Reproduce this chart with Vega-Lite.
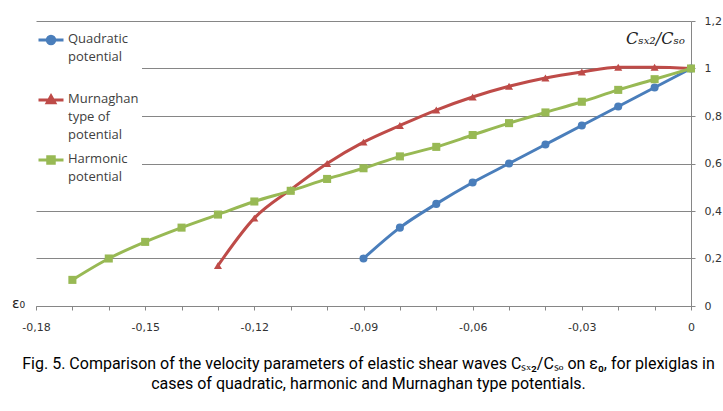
{
  "$schema": "https://vega.github.io/schema/vega-lite/v6.json",
  "width": 655,
  "height": 285,
  "autosize": "none",
  "padding": {"left": 36, "top": 21, "right": 32, "bottom": 105},
  "background": "white",
  "config": {
    "view": {"stroke": null},
    "font": "DejaVu Sans"
  },
  "title": {
    "text": [
      "Fig. 5. Comparison of the velocity parameters of elastic shear waves Cₛₓ₂/Cₛₒ  on ε₀, for plexiglas in",
      "cases of quadratic, harmonic and Murnaghan type potentials."
    ],
    "orient": "bottom",
    "anchor": "middle",
    "frame": "group",
    "offset": 24,
    "dx": 5,
    "font": "Roboto",
    "fontSize": 16,
    "fontWeight": "normal",
    "color": "#000000",
    "lineHeight": 20,
    "baseline": "top"
  },
  "datasets": {
    "curves": [
      {"eps": -0.09, "c": 0.20, "series": "Quadratic potential"},
      {"eps": -0.08, "c": 0.33, "series": "Quadratic potential"},
      {"eps": -0.07, "c": 0.43, "series": "Quadratic potential"},
      {"eps": -0.06, "c": 0.52, "series": "Quadratic potential"},
      {"eps": -0.05, "c": 0.60, "series": "Quadratic potential"},
      {"eps": -0.04, "c": 0.68, "series": "Quadratic potential"},
      {"eps": -0.03, "c": 0.76, "series": "Quadratic potential"},
      {"eps": -0.02, "c": 0.84, "series": "Quadratic potential"},
      {"eps": -0.01, "c": 0.92, "series": "Quadratic potential"},
      {"eps": 0, "c": 1.0, "series": "Quadratic potential"},
      {"eps": -0.13, "c": 0.17, "series": "Murnaghan type of potential"},
      {"eps": -0.12, "c": 0.37, "series": "Murnaghan type of potential"},
      {"eps": -0.11, "c": 0.49, "series": "Murnaghan type of potential"},
      {"eps": -0.10, "c": 0.60, "series": "Murnaghan type of potential"},
      {"eps": -0.09, "c": 0.69, "series": "Murnaghan type of potential"},
      {"eps": -0.08, "c": 0.76, "series": "Murnaghan type of potential"},
      {"eps": -0.07, "c": 0.825, "series": "Murnaghan type of potential"},
      {"eps": -0.06, "c": 0.88, "series": "Murnaghan type of potential"},
      {"eps": -0.05, "c": 0.925, "series": "Murnaghan type of potential"},
      {"eps": -0.04, "c": 0.96, "series": "Murnaghan type of potential"},
      {"eps": -0.03, "c": 0.985, "series": "Murnaghan type of potential"},
      {"eps": -0.02, "c": 1.005, "series": "Murnaghan type of potential"},
      {"eps": -0.01, "c": 1.005, "series": "Murnaghan type of potential"},
      {"eps": 0, "c": 1.0, "series": "Murnaghan type of potential"},
      {"eps": -0.17, "c": 0.11, "series": "Harmonic potential"},
      {"eps": -0.16, "c": 0.20, "series": "Harmonic potential"},
      {"eps": -0.15, "c": 0.27, "series": "Harmonic potential"},
      {"eps": -0.14, "c": 0.33, "series": "Harmonic potential"},
      {"eps": -0.13, "c": 0.385, "series": "Harmonic potential"},
      {"eps": -0.12, "c": 0.44, "series": "Harmonic potential"},
      {"eps": -0.11, "c": 0.485, "series": "Harmonic potential"},
      {"eps": -0.10, "c": 0.535, "series": "Harmonic potential"},
      {"eps": -0.09, "c": 0.58, "series": "Harmonic potential"},
      {"eps": -0.08, "c": 0.63, "series": "Harmonic potential"},
      {"eps": -0.07, "c": 0.67, "series": "Harmonic potential"},
      {"eps": -0.06, "c": 0.72, "series": "Harmonic potential"},
      {"eps": -0.05, "c": 0.77, "series": "Harmonic potential"},
      {"eps": -0.04, "c": 0.815, "series": "Harmonic potential"},
      {"eps": -0.03, "c": 0.86, "series": "Harmonic potential"},
      {"eps": -0.02, "c": 0.91, "series": "Harmonic potential"},
      {"eps": -0.01, "c": 0.955, "series": "Harmonic potential"},
      {"eps": 0, "c": 1.0, "series": "Harmonic potential"}
    ]
  },
  "data": {"name": "curves"},
  "encoding": {
    "x": {
      "field": "eps",
      "type": "quantitative",
      "scale": {"domain": [-0.18, 0], "nice": false, "zero": false},
      "axis": {
        "values": [-0.18, -0.17, -0.16, -0.15, -0.14, -0.13, -0.12, -0.11, -0.1, -0.09, -0.08, -0.07, -0.06, -0.05, -0.04, -0.03, -0.02, -0.01, 0],
        "labelExpr": "round(datum.value * 100) % 3 != 0 ? '' : (datum.value == 0 ? '0' : '-' + replace(format(abs(datum.value), '.2f'), '.', ','))",
        "labelOverlap": false,
        "labelFlush": false,
        "grid": false,
        "domainColor": "#868686",
        "tickColor": "#868686",
        "tickSize": 4,
        "labelPadding": 11,
        "labelFont": "DejaVu Sans",
        "labelFontSize": 11,
        "labelColor": "#333333",
        "title": "ε₀",
        "titleX": -18,
        "titleY": -3,
        "titleAngle": 0,
        "titleAlign": "center",
        "titleBaseline": "middle",
        "titleFont": "DejaVu Sans",
        "titleFontSize": 14,
        "titleFontWeight": "normal",
        "titleColor": "#222222"
      }
    },
    "y": {
      "field": "c",
      "type": "quantitative",
      "scale": {"domain": [0, 1.2], "nice": false},
      "axis": {
        "orient": "right",
        "values": [0, 0.2, 0.4, 0.6, 0.8, 1, 1.2],
        "labelExpr": "datum.value == 0 ? '0' : datum.value == 1 ? '1' : replace(format(datum.value, '.1f'), '.', ',')",
        "grid": true,
        "gridColor": "#868686",
        "gridWidth": 1,
        "domainColor": "#868686",
        "tickColor": "#868686",
        "tickSize": 4,
        "labelPadding": 9,
        "labelFont": "DejaVu Sans",
        "labelFontSize": 11,
        "labelColor": "#333333",
        "title": "Cₛₓ₂/Cₛₒ",
        "titleAngle": 0,
        "titleX": -36,
        "titleY": 17,
        "titleAlign": "center",
        "titleBaseline": "middle",
        "titleFont": "DejaVu Serif",
        "titleFontStyle": "italic",
        "titleFontSize": 16,
        "titleFontWeight": "normal",
        "titleColor": "#222222"
      }
    }
  },
  "layer": [
    {
      "mark": {"type": "line", "interpolate": "monotone", "strokeWidth": 3},
      "encoding": {
        "color": {
          "field": "series",
          "type": "nominal",
          "scale": {
            "domain": ["Quadratic potential", "Murnaghan type of potential", "Harmonic potential"],
            "range": ["#4A7EBB", "#BE4B48", "#98B954"]
          },
          "legend": {
            "orient": "none",
            "legendX": -2,
            "legendY": 2,
            "padding": 3,
            "fillColor": "white",
            "title": null,
            "labelFont": "Open Sans",
            "labelFontSize": 13,
            "labelColor": "#404040",
            "labelLimit": 200,
            "labelOffset": 3,
            "labelBaseline": "top",
            "rowPadding": 4,
            "symbolSize": 625,
            "labelExpr": "datum.value == 'Quadratic potential' ? ['Quadratic', 'potential', ''] : datum.value == 'Harmonic potential' ? ['Harmonic', 'potential'] : ['Murnaghan', 'type of', 'potential']",
            "encode": {
              "symbols": {
                "update": {
                  "shape": {"signal": "datum.value == 'Quadratic potential' ? 'M-1,0H1M0.3,0A0.3,0.3 0 1,1 -0.3,0A0.3,0.3 0 1,1 0.3,0Z' : datum.value == 'Harmonic potential' ? 'M-1,0H1M-0.26,-0.26H0.26V0.26H-0.26Z' : 'M-1,0H1M0,-0.32L0.3,0.22H-0.3Z'"},
                  "stroke": {"signal": "scale('color', datum.value)"},
                  "fill": {"signal": "scale('color', datum.value)"},
                  "strokeWidth": {"value": 3},
                  "opacity": {"value": 1}
                }
              },
              "labels": {
                "update": {
                  "lineHeight": {"value": 18},
                  "dy": {"value": -7}
                }
              }
            }
          }
        }
      }
    },
    {
      "transform": [{"filter": "datum.series == 'Quadratic potential'"}],
      "mark": {"type": "point", "shape": "circle", "filled": true, "color": "#4A7EBB", "opacity": 1, "size": 65}
    },
    {
      "transform": [{"filter": "datum.series == 'Murnaghan type of potential'"}],
      "mark": {"type": "point", "shape": "triangle-up", "filled": true, "color": "#BE4B48", "opacity": 1, "size": 65}
    },
    {
      "transform": [{"filter": "datum.series == 'Harmonic potential'"}],
      "mark": {"type": "point", "shape": "square", "filled": true, "color": "#98B954", "opacity": 1, "size": 65}
    },
    {
      "data": {"values": [{}]},
      "mark": {"type": "point", "shape": "triangle-left", "filled": true, "color": "#868686", "opacity": 1, "size": 50},
      "encoding": {
        "x": {"datum": -0.1775},
        "y": {"datum": 0}
      }
    },
    {
      "data": {"values": [{}]},
      "mark": {"type": "point", "shape": "triangle-up", "filled": true, "color": "#868686", "opacity": 1, "size": 50},
      "encoding": {
        "x": {"datum": 0},
        "y": {"datum": 1.18}
      }
    }
  ]
}
